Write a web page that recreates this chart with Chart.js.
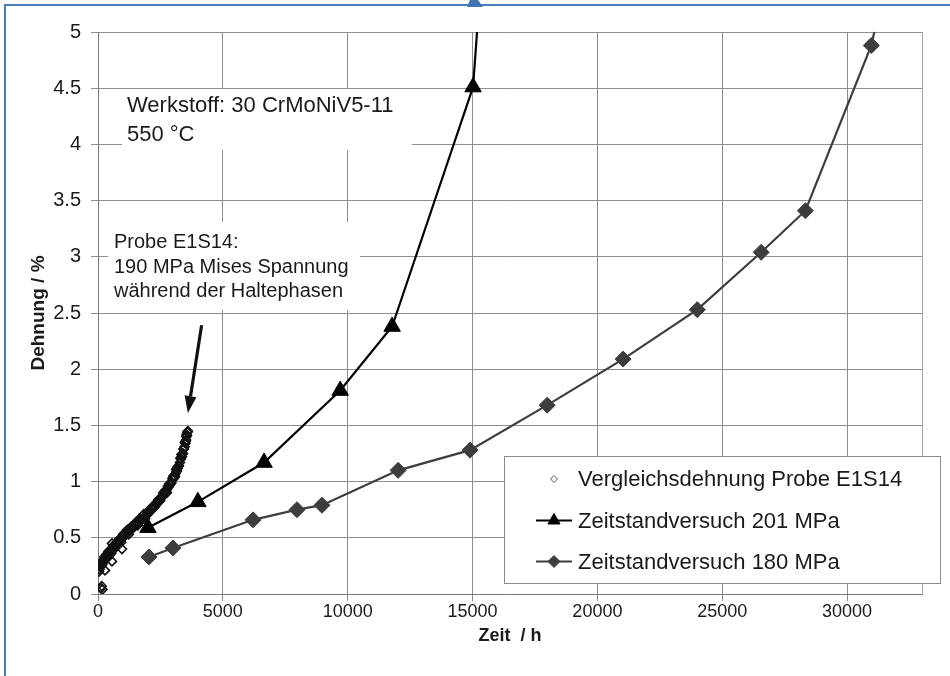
<!DOCTYPE html>
<html>
<head>
<meta charset="utf-8">
<script src="https://cdn.jsdelivr.net/npm/chart.js@4/dist/chart.umd.min.js"></script>
<style>
  html, body { margin: 0; padding: 0; background: #fff; }
  #wrap { position: relative; width: 950px; height: 676px; }
  canvas { display: block; }
</style>
</head>
<body>
<div id="wrap"><canvas id="c" width="950" height="676"></canvas></div>
<script>
// Creep test 201 MPa (time in h, strain in %)
const zeit201 = [2000, 4000, 6650, 9700, 11780, 15020, 15180];
const dehnung201 = [0.59, 0.82, 1.17, 1.81, 2.38, 4.51, 5.0];

// Creep test 180 MPa
const zeit180 = [2040, 3000, 6210, 7970, 8970, 12020, 14900, 17990, 21030, 24000, 26560, 28330, 30970, 31090];
const dehnung180 = [0.33, 0.41, 0.66, 0.75, 0.79, 1.10, 1.28, 1.68, 2.09, 2.53, 3.04, 3.41, 4.88, 5.0];

// Equivalent strain of specimen E1S14
const zeitE1S14 = [
  120, 150, 180,
  60, 90, 120, 150, 190, 230, 270, 310, 350, 400, 450, 500, 550, 600, 660, 720, 780, 840,
  900, 960, 1020, 1080, 1140, 1200, 1260, 1320, 1380, 1440, 1500, 1560, 1620, 1680, 1740,
  1800, 1860, 1920, 1980, 2040, 2100, 2160, 2220, 2280, 2340, 2400, 2460, 2520, 2580, 2640,
  2700, 2760, 2820, 2880, 2940, 3000, 3050, 3100, 3150, 3200, 3240, 3280, 3320, 3360, 3400,
  3440, 3470, 3500, 3530, 3560, 3580,
  110, 260, 420, 640, 860, 1060, 1290, 1470, 1700, 1950, 2180, 2420, 2610, 2800, 2980,
  3130, 3300, 3420, 3550, 3600,
  70, 200, 330, 480, 610, 750, 880, 1010, 1170, 1340, 1520, 1660, 1830, 2010, 2190, 2360,
  2530, 2690, 2850, 3020, 3180, 3340, 3480, 3540,
  40, 170, 380, 530, 700, 930, 1230, 1590, 1880, 2250, 2490, 2730, 2910, 3070, 3230, 3390, 3510,
  280, 560, 560, 960, 2760, 3080, 3160
];
const dehnungE1S14 = [
  0.05, 0.07, 0.04,
  0.22, 0.24, 0.25, 0.27, 0.28, 0.30, 0.31, 0.32, 0.33, 0.35, 0.36, 0.38, 0.39, 0.40, 0.42, 0.43, 0.45, 0.46,
  0.48, 0.49, 0.51, 0.52, 0.54, 0.55, 0.56, 0.57, 0.58, 0.60, 0.61, 0.62, 0.63, 0.65, 0.66,
  0.67, 0.68, 0.70, 0.71, 0.72, 0.74, 0.75, 0.77, 0.78, 0.80, 0.82, 0.83, 0.85, 0.87, 0.89,
  0.91, 0.93, 0.95, 0.97, 0.99, 1.02, 1.04, 1.07, 1.09, 1.12, 1.14, 1.17, 1.20, 1.22, 1.25,
  1.29, 1.31, 1.34, 1.37, 1.41, 1.44,
  0.27, 0.33, 0.38, 0.43, 0.49, 0.54, 0.59, 0.62, 0.67, 0.72, 0.77, 0.84, 0.90, 0.96, 1.03,
  1.11, 1.21, 1.29, 1.42, 1.45,
  0.25, 0.30, 0.35, 0.39, 0.43, 0.46, 0.49, 0.53, 0.57, 0.60, 0.64, 0.67, 0.71, 0.74, 0.78, 0.82,
  0.86, 0.92, 0.98, 1.05, 1.13, 1.24, 1.35, 1.40,
  0.20, 0.26, 0.32, 0.36, 0.41, 0.46, 0.53, 0.61, 0.67, 0.77, 0.83, 0.91, 0.98, 1.05, 1.14, 1.25, 1.36,
  0.21, 0.29, 0.45, 0.40, 0.90, 1.04, 1.10
];

const xTickValues = [0, 5000, 10000, 15000, 20000, 25000, 30000];
const yTickValues = [0, 0.5, 1, 1.5, 2, 2.5, 3, 3.5, 4, 4.5, 5];

const seriesLabels = ['Vergleichsdehnung Probe E1S14', 'Zeitstandversuch 201 MPa', 'Zeitstandversuch 180 MPa'];
const noteMaterial = ['Werkstoff: 30 CrMoNiV5-11', '550 °C'];
const noteSpecimen = ['Probe E1S14:', '190 MPa Mises Spannung', 'während der Haltephasen'];

const toPoints = (xs, ys) => xs.map((x, i) => ({ x: x, y: ys[i] }));
const FONT = "'Liberation Sans', Arial, sans-serif";
const GRID = '#8e8e8e';

// white text boxes hide the grid behind the notes, then the notes and the arrow
const notesPlugin = {
  id: 'notes',
  beforeDatasetsDraw(chart) {
    const ctx = chart.ctx;
    const a = chart.chartArea;
    const xs = chart.scales.x, ys = chart.scales.y;
    ctx.save();
    // plot frame (right side)
    ctx.strokeStyle = '#a8a8a8';
    ctx.lineWidth = 1;
    ctx.beginPath();
    ctx.moveTo(Math.round(a.right) + 0.5, a.top);
    ctx.lineTo(Math.round(a.right) + 0.5, a.bottom);
    ctx.stroke();

    ctx.fillStyle = '#fff';
    ctx.fillRect(a.left + 24, a.top + 57, 290, 61);
    ctx.fillRect(a.left + 10, a.top + 190, 252, 88);

    ctx.fillStyle = '#1a1a1a';
    ctx.textAlign = 'left';
    ctx.textBaseline = 'alphabetic';
    ctx.font = '22px ' + FONT;
    noteMaterial.forEach((t, i) => ctx.fillText(t, a.left + 29, a.top + 80 + i * 29));
    ctx.font = '20px ' + FONT;
    noteSpecimen.forEach((t, i) => ctx.fillText(t, a.left + 16, a.top + 216 + i * 24.5));

    // arrow pointing at the E1S14 curve
    const x0 = xs.getPixelForValue(4150), y0 = ys.getPixelForValue(2.39);
    const x1 = xs.getPixelForValue(3600), y1 = ys.getPixelForValue(1.61);
    const ang = Math.atan2(y1 - y0, x1 - x0);
    const head = 17, half = 6;
    const bx = x1 - head * Math.cos(ang), by = y1 - head * Math.sin(ang);
    ctx.strokeStyle = '#111';
    ctx.lineWidth = 3.2;
    ctx.beginPath();
    ctx.moveTo(x0, y0);
    ctx.lineTo(bx, by);
    ctx.stroke();
    ctx.fillStyle = '#111';
    ctx.beginPath();
    ctx.moveTo(x1, y1);
    ctx.lineTo(bx + half * Math.sin(ang), by - half * Math.cos(ang));
    ctx.lineTo(bx - half * Math.sin(ang), by + half * Math.cos(ang));
    ctx.closePath();
    ctx.fill();
    ctx.restore();
  }
};

// boxed legend inside the plot, bottom right
const legendBoxPlugin = {
  id: 'legendBox',
  afterDatasetsDraw(chart) {
    const ctx = chart.ctx;
    const a = chart.chartArea;
    const bx = a.left + 406, by = a.top + 424, bw = 436, bh = 127;
    ctx.save();
    ctx.fillStyle = '#fff';
    ctx.fillRect(bx, by, bw, bh);
    ctx.strokeStyle = '#8a8a8a';
    ctx.lineWidth = 1;
    ctx.strokeRect(Math.round(bx) + 0.5, Math.round(by) + 0.5, bw, bh);
    const rows = [by + 23, by + 64.5, by + 105.5];
    const sx0 = bx + 32, sx1 = bx + 68, mx = bx + 50;
    chart.data.datasets.forEach((ds, i) => {
      const y = rows[i];
      if (ds.showLine) {
        ctx.strokeStyle = ds.borderColor;
        ctx.lineWidth = ds.borderWidth;
        ctx.beginPath();
        ctx.moveTo(sx0, y);
        ctx.lineTo(sx1, y);
        ctx.stroke();
      }
      ctx.fillStyle = ds.pointBackgroundColor;
      ctx.strokeStyle = ds.legendBorderColor || ds.pointBorderColor;
      ctx.lineWidth = ds.legendBorderWidth || ds.pointBorderWidth;
      Chart.helpers.drawPoint(ctx, {
        pointStyle: ds.pointStyle,
        radius: ds.legendRadius,
        rotation: 0,
        borderWidth: ds.legendBorderWidth || ds.pointBorderWidth
      }, mx, y);
      ctx.fillStyle = '#1a1a1a';
      ctx.font = '22px ' + FONT;
      ctx.textAlign = 'left';
      ctx.textBaseline = 'middle';
      ctx.fillText(ds.label, bx + 74, y + 1);
    });
    ctx.restore();
  },
  afterDraw(chart) {
    // blue frame of the embedded picture
    const ctx = chart.ctx;
    ctx.save();
    ctx.strokeStyle = '#4a7ebb';
    ctx.lineWidth = 2;
    ctx.beginPath();
    ctx.moveTo(5, 676);
    ctx.lineTo(5, 5);
    ctx.lineTo(950, 5);
    ctx.stroke();
    ctx.fillStyle = '#3f74b5';
    ctx.beginPath();
    ctx.moveTo(467, 7);
    ctx.lineTo(483, 7);
    ctx.lineTo(478, 0);
    ctx.lineTo(470, 0);
    ctx.closePath();
    ctx.fill();
    ctx.restore();
  }
};

new Chart(document.getElementById('c'), {
  type: 'scatter',
  data: {
    datasets: [
      {
        label: seriesLabels[0],
        data: toPoints(zeitE1S14, dehnungE1S14),
        showLine: false,
        pointStyle: 'rectRot',
        pointRadius: 4.5,
        pointBorderWidth: 1.6,
        pointBorderColor: '#111',
        pointBackgroundColor: 'rgba(255,255,255,0)',
        legendRadius: 3.5,
        legendBorderWidth: 1,
        legendBorderColor: '#555'
      },
      {
        label: seriesLabels[1],
        data: toPoints(zeit201, dehnung201),
        showLine: true,
        borderColor: '#000',
        borderWidth: 2.2,
        tension: 0,
        pointStyle: 'triangle',
        pointRadius: [9.5, 9.5, 9.5, 9.5, 9.5, 9.5, 0],
        pointBorderWidth: 1,
        pointBorderColor: '#000',
        pointBackgroundColor: '#000',
        legendRadius: 7,
        clip: false
      },
      {
        label: seriesLabels[2],
        data: toPoints(zeit180, dehnung180),
        showLine: true,
        borderColor: '#3d3d3d',
        borderWidth: 2.2,
        tension: 0,
        pointStyle: 'rectRot',
        pointRadius: [8, 8, 8, 8, 8, 8, 8, 8, 8, 8, 8, 8, 8, 0],
        pointBorderWidth: 1,
        pointBorderColor: '#3d3d3d',
        pointBackgroundColor: '#3d3d3d',
        legendRadius: 6,
        clip: false
      }
    ]
  },
  options: {
    responsive: false,
    animation: false,
    devicePixelRatio: 1,
    layout: { padding: { left: 0, top: 32, right: 28, bottom: 0 } },
    plugins: { legend: { display: false }, tooltip: { enabled: false } },
    scales: {
      x: {
        type: 'linear',
        min: 0,
        max: 33000,
        afterBuildTicks(scale) { scale.ticks = xTickValues.map(v => ({ value: v })); },
        afterFit(scale) { scale.height = 82; },
        ticks: {
          color: '#1a1a1a',
          font: { family: FONT, size: 18 },
          padding: 0,
          maxRotation: 0,
          callback: v => String(v)
        },
        grid: { color: GRID, lineWidth: 1, tickLength: 7, drawTicks: true },
        border: { color: '#7a7a7a', width: 1 },
        title: {
          display: true,
          text: 'Zeit  / h',
          color: '#1a1a1a',
          font: { family: FONT, size: 18, weight: 'bold' },
          padding: { top: 0, bottom: 29 }
        }
      },
      y: {
        type: 'linear',
        min: 0,
        max: 5,
        afterBuildTicks(scale) { scale.ticks = yTickValues.map(v => ({ value: v })); },
        afterFit(scale) { scale.width = 98; },
        ticks: {
          color: '#1a1a1a',
          font: { family: FONT, size: 20 },
          padding: 10,
          callback: v => String(v)
        },
        grid: { color: GRID, lineWidth: 1, tickLength: 7, drawTicks: true },
        border: { color: '#7a7a7a', width: 1 },
        title: {
          display: true,
          text: 'Dehnung / %',
          color: '#1a1a1a',
          font: { family: FONT, size: 19, weight: 'bold' },
          padding: { top: 27, bottom: 0 }
        }
      }
    }
  },
  plugins: [notesPlugin, legendBoxPlugin]
});
</script>
</body>
</html>
